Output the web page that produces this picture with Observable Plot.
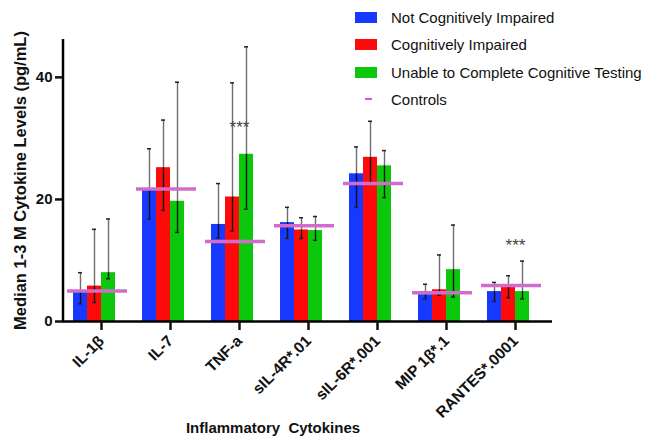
<!DOCTYPE html>
<html>
<head>
<meta charset="utf-8">
<script src="https://cdn.jsdelivr.net/npm/d3@7"></script>
<script src="https://cdn.jsdelivr.net/npm/@observablehq/plot@0.6"></script>
<style>
  body { margin: 0; background: #fff; }
  #wrap { position: relative; width: 670px; height: 441px; font-family: "Liberation Sans", Arial, sans-serif; }
  #wrap svg text { white-space: pre; }
  .legend { position: absolute; left: 355px; top: 0; font-size: 15px; color: #111; }
  .item { position: absolute; left: 0; height: 20px; display: flex; align-items: center; white-space: nowrap; }
  .sw { width: 22px; height: 11px; margin-right: 14px; }
  .dash { width: 7px; height: 2.5px; margin-left: 10px; margin-right: 19px; }
</style>
</head>
<body>
<div id="wrap"></div>
<script>
// ---- data ----
const categories = ["IL-1β", "IL-7", "TNF-a", "sIL-4R*.01", "sIL-6R*.001", "MIP 1β*.1", "RANTES*.0001"];
const seriesNames = ["Not Cognitively Impaired", "Cognitively Impaired", "Unable to Complete Cognitive Testing", "Controls"];

const nciMedian = [4.9, 21.5, 15.9, 16.2, 24.2, 4.4, 4.9];
const nciLow    = [2.9, 16.8, 13.7, 13.6, 18.7, 3.7, 3.3];
const nciHigh   = [8.0, 28.3, 22.6, 18.7, 28.6, 6.1, 6.4];

const ciMedian  = [5.8, 25.2, 20.4, 15.0, 26.9, 5.2, 5.6];
const ciLow     = [3.1, 18.2, 14.8, 13.6, 22.7, 4.3, 3.9];
const ciHigh    = [15.1, 33.0, 39.1, 17.0, 32.8, 10.9, 7.5];

const ucMedian  = [8.0, 19.7, 27.4, 14.9, 25.5, 8.5, 4.9];
const ucLow     = [7.0, 14.6, 18.4, 13.3, 20.3, 4.0, 3.7];
const ucHigh    = [16.8, 39.2, 45.0, 17.2, 28.0, 15.8, 9.9];

const controls  = [5.0, 21.7, 13.1, 15.7, 22.6, 4.7, 5.9];

const starCategories = ["TNF-a", "RANTES*.0001"];
const starValues = [32.2, 13.0];

const yTicks = [0, 20, 40];

// ---- styling ----
const colors = ["#1638ff", "#ff0a0a", "#0cc80c"];
const controlColor = "#d16ccb";
const offsets = [-21, -7, 7];

const rows = (med, lo, hi) => categories.map((c, i) => ({cat: c, v: med[i], lo: lo[i], hi: hi[i]}));
const series = [
  rows(nciMedian, nciLow, nciHigh),
  rows(ciMedian, ciLow, ciHigh),
  rows(ucMedian, ucLow, ucHigh)
];
const controlRows = categories.map((c, i) => ({cat: c, v: controls[i]}));
const stars = starCategories.map((c, i) => ({cat: c, v: starValues[i]}));

const marks = [];
series.forEach((data, k) => {
  marks.push(Plot.barY(data, {x: "cat", y: "v", fill: colors[k], dx: offsets[k]}));
});
series.forEach((data, k) => {
  marks.push(Plot.ruleX(data, {x: "cat", y1: "v", y2: "hi", stroke: "#6e6e6e", strokeWidth: 1.4, dx: offsets[k]}));
  marks.push(Plot.ruleX(data, {x: "cat", y1: "lo", y2: "v", stroke: "#111", strokeWidth: 1.4, dx: offsets[k]}));
  marks.push(Plot.tickY(data, {x: "cat", y: "hi", stroke: "#222", strokeWidth: 1.5, insetLeft: 5, insetRight: 5, dx: offsets[k]}));
  marks.push(Plot.tickY(data, {x: "cat", y: "lo", stroke: "#222", strokeWidth: 1.5, insetLeft: 5, insetRight: 5, dx: offsets[k]}));
});
marks.push(Plot.tickY(controlRows, {x: "cat", y: "v", stroke: controlColor, strokeWidth: 3.5, insetLeft: -27, insetRight: -19}));
marks.push(Plot.text(stars, {x: "cat", y: "v", text: () => "***", fontSize: 17, fill: "#444", dy: 3}));
marks.push(Plot.ruleY([0], {stroke: "#000", strokeWidth: 2.5}));
marks.push(Plot.axisY({ticks: yTicks, tickSize: 8, strokeWidth: 2.5, label: null, fontSize: 15, fontWeight: "bold", tickPadding: 3}));
marks.push(Plot.axisX({tickSize: 9, strokeWidth: 2.5, tickRotate: -45, label: null, fontSize: 15.5, fontWeight: "bold", tickPadding: 8}));
marks.push(Plot.text(["Median 1-3 M Cytokine Levels (pg/mL)"], {frameAnchor: "left", textAnchor: "middle", rotate: -90, dx: -43, fontSize: 16.5, fontWeight: "bold", fill: "#111"}));
marks.push(Plot.text(["Inflammatory  Cytokines"], {frameAnchor: "bottom", textAnchor: "middle", dx: -35, dy: 111, fontSize: 15, fontWeight: "bold", fill: "#111"}));

const marginLeft = 63;
const chart = Plot.plot({
  width: 670,
  height: 441,
  marginTop: 39,
  marginBottom: 120,
  marginLeft,
  marginRight: 118,
  style: {fontFamily: "'Liberation Sans', Arial, sans-serif", color: "#111", background: "#fff"},
  x: {type: "band", domain: categories, paddingInner: 0.8, paddingOuter: 0.4},
  y: {domain: [0, 46.2]},
  marks
});

// y-axis line, drawn from the chart's own y scale range
const yr = chart.scale("y").range;
d3.select(chart).append("line")
  .attr("x1", marginLeft).attr("x2", marginLeft)
  .attr("y1", Math.max(...yr) + 1.25).attr("y2", Math.min(...yr))
  .attr("stroke", "#000").attr("stroke-width", 2.5);

const wrap = document.getElementById("wrap");
wrap.appendChild(chart);

// legend
const legend = document.createElement("div");
legend.className = "legend";
const legendY = [17, 44, 72, 99];
seriesNames.forEach((name, i) => {
  const it = document.createElement("div");
  it.className = "item";
  it.style.top = (legendY[i] - 10) + "px";
  const sw = document.createElement("div");
  if (i < 3) { sw.className = "sw"; sw.style.background = colors[i]; }
  else { sw.className = "dash"; sw.style.background = "#e24fe2"; }
  it.appendChild(sw);
  const t = document.createElement("span");
  t.textContent = name;
  it.appendChild(t);
  legend.appendChild(it);
});
wrap.appendChild(legend);
</script>
</body>
</html>
